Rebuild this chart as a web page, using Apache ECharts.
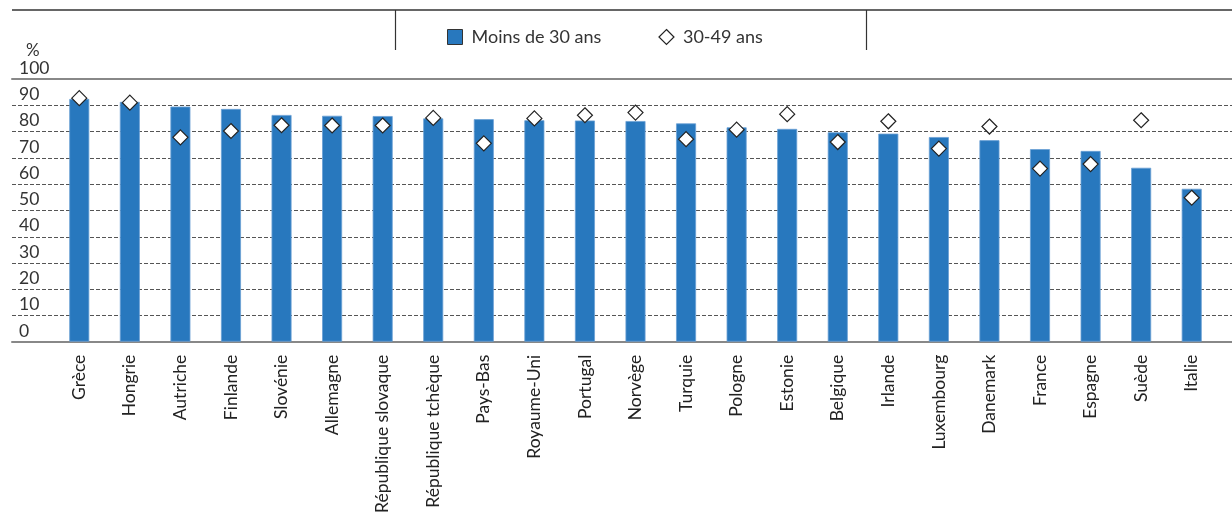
<!DOCTYPE html>
<html>
<head>
<meta charset="utf-8">
<script src="https://cdn.jsdelivr.net/npm/echarts@6/dist/echarts.min.js"></script>
<style>
html,body{margin:0;padding:0;background:#fff;}
#chart{width:1232px;height:516px;}
</style>
</head>
<body>
<div id="chart"></div>
<script>
const categories = ["Grèce","Hongrie","Autriche","Finlande","Slovénie","Allemagne","République slovaque","République tchèque","Pays-Bas","Royaume-Uni","Portugal","Norvège","Turquie","Pologne","Estonie","Belgique","Irlande","Luxembourg","Danemark","France","Espagne","Suède","Italie"];
const under30 = [92.4, 91.3, 89.5, 88.6, 86.3, 86.0, 85.9, 85.0, 84.7, 84.3, 84.2, 84.0, 83.1, 81.6, 81.0, 79.7, 79.2, 77.9, 76.7, 73.3, 72.6, 66.2, 58.2];
const age30to49 = [92.7, 91.0, 77.8, 80.2, 82.4, 82.3, 82.3, 85.2, 75.5, 85.0, 86.2, 87.2, 77.1, 80.7, 86.6, 76.0, 83.9, 73.5, 81.9, 65.9, 67.6, 84.3, 54.8];
const seriesNames = ["Moins de 30 ans", "30-49 ans"];
const yTicks = {min: 0, max: 100, interval: 10};

const FONT = 'Lato';
const chart = echarts.init(document.getElementById('chart'), null, {renderer: 'canvas'});
const option = {
  animation: false,
  backgroundColor: '#fff',
  textStyle: {fontFamily: FONT, color: '#333'},
  legend: {
    left: 442, top: 23,
    itemWidth: 15, itemHeight: 15, itemGap: 57,
    textStyle: {fontFamily: FONT, fontSize: 18, color: '#333', padding: [0,0,0,4]},
    data: [
      {name: seriesNames[0], icon: 'rect', itemStyle: {color: '#2878be', borderColor: '#333', borderWidth: 1, opacity: 1}},
      {name: seriesNames[1], icon: 'diamond', itemStyle: {color: '#fff', borderColor: '#222', borderWidth: 1.2, opacity: 1}}
    ]
  },
  grid: [
    {left: 54, right: 15, top: 79, bottom: 174},
    {left: 12, right: 0, top: 79, bottom: 174}
  ],
  xAxis: [
    {
      type: 'category', gridIndex: 0, data: categories,
      axisLine: {show: false}, axisTick: {show: false},
      axisLabel: {rotate: 90, margin: 13, fontFamily: FONT, fontSize: 17.5, color: '#222', interval: 0}
    },
    {
      type: 'value', gridIndex: 1, min: 0, max: 1, position: 'bottom',
      axisLine: {show: true, lineStyle: {color: '#888', width: 2}},
      axisTick: {show: false}, axisLabel: {show: false}, splitLine: {show: false}
    },
    {
      type: 'value', gridIndex: 1, min: 0, max: 1, position: 'top',
      axisLine: {show: true, lineStyle: {color: '#888', width: 2}},
      axisTick: {show: false}, axisLabel: {show: false}, splitLine: {show: false}
    }
  ],
  yAxis: [
    {type: 'value', gridIndex: 0, min: yTicks.min, max: yTicks.max, interval: yTicks.interval, show: false},
    {
      type: 'value', gridIndex: 1, min: yTicks.min, max: yTicks.max, interval: yTicks.interval,
      name: '%', nameLocation: 'end', nameGap: 15,
      nameTextStyle: {fontFamily: FONT, fontSize: 17, color: '#333', align: 'left', padding: [0,0,0,14]},
      axisLine: {show: false}, axisTick: {show: false},
      axisLabel: {inside: true, margin: 7, fontFamily: FONT, fontSize: 17.5, color: '#333', verticalAlign: 'bottom', padding: [0,0,2,0], showMinLabel: true, showMaxLabel: true},
      splitLine: {show: true, lineStyle: {color: '#555', width: 1, type: [4, 2]}}
    }
  ],
  series: [
    {
      name: seriesNames[0], type: 'bar', xAxisIndex: 0, yAxisIndex: 0,
      data: under30, barWidth: 20,
      itemStyle: {color: '#2878be', borderColor: '#6a9fd4', borderWidth: 0.8}
    },
    {
      name: seriesNames[1], type: 'scatter', xAxisIndex: 0, yAxisIndex: 0,
      data: age30to49, symbol: 'diamond', symbolSize: 15, z: 5,
      itemStyle: {color: '#fff', borderColor: '#222', borderWidth: 1.2, opacity: 1}
    }
  ],
  graphic: [
    {type: 'line', shape: {x1: 12, y1: 10, x2: 1232, y2: 10}, style: {stroke: '#333', lineWidth: 1.5}},
    {type: 'line', shape: {x1: 395.5, y1: 10, x2: 395.5, y2: 50}, style: {stroke: '#333', lineWidth: 1.2}},
    {type: 'line', shape: {x1: 866.5, y1: 10, x2: 866.5, y2: 50}, style: {stroke: '#333', lineWidth: 1.2}}
  ]
};
chart.setOption(option);
</script>
</body>
</html>
